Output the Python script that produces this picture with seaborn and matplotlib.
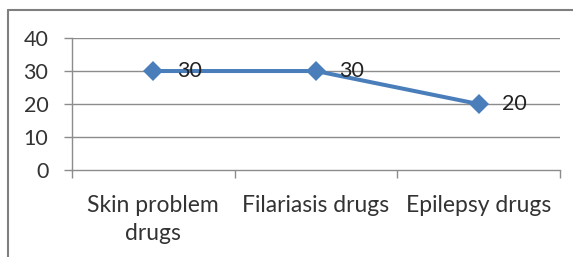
import numpy as np
import pandas as pd
import matplotlib
matplotlib.use("Agg")
import matplotlib.pyplot as plt
import seaborn as sns
from matplotlib.lines import Line2D

categories = ["Skin problem\ndrugs", "Filariasis drugs", "Epilepsy drugs"]
values = [30, 30, 20]
y_ticks = [0, 10, 20, 30, 40]

df = pd.DataFrame({"pos": np.arange(len(categories)), "value": values})

sns.set_theme(style="white")
plt.rcParams["font.family"] = ["Lato", "DejaVu Sans"]

fig = plt.figure(figsize=(5.73, 2.57), dpi=100)
ax = fig.add_axes([0.1257, 0.3385, 0.8513, 0.5135])

grid_col = "#8c8c8c"
for t in y_ticks[1:]:
    ax.axhline(t, color=grid_col, lw=1.0, zorder=0)

sns.lineplot(data=df, x="pos", y="value", ax=ax, color="#4a7ebb", lw=2.9,
             marker="D", markersize=10.5, markeredgewidth=0, zorder=3)

for x, v in zip(df["pos"], df["value"]):
    ax.annotate(str(v), (x, v), xytext=(17, 0), textcoords="offset points",
                ha="left", va="center", fontsize=15.5, color="#222222")

ax.set_xlim(-0.5, len(categories) - 0.5)
ax.set_ylim(0, 40)
ax.set_yticks(y_ticks)
ax.set_xticks(df["pos"])
ax.set_xticklabels(categories, fontsize=16.5, color="#333333", linespacing=1.4)
ax.set_xticks(np.arange(-0.5, len(categories)), minor=True)
ax.tick_params(axis="x", which="major", length=0, pad=18)
ax.tick_params(axis="x", which="minor", length=6, width=1.0, color=grid_col, direction="out", bottom=True)
ax.tick_params(axis="y", length=6, width=1.0, color=grid_col, direction="out", labelsize=15.5,
               labelcolor="#333333", pad=11, left=True)
ax.set_xlabel("")
ax.set_ylabel("")
for s in ["top", "right"]:
    ax.spines[s].set_visible(False)
for s in ["left", "bottom"]:
    ax.spines[s].set_color(grid_col)
    ax.spines[s].set_linewidth(1.0)

# outer chart frame
fx = 8 / 573
fy = 1 - 10 / 257
fig.add_artist(Line2D([fx, 1], [fy, fy], transform=fig.transFigure, color="#7f7f7f", lw=1.5))
fig.add_artist(Line2D([fx, fx], [0, fy], transform=fig.transFigure, color="#7f7f7f", lw=1.5))

fig.savefig("out.png", dpi=100)
